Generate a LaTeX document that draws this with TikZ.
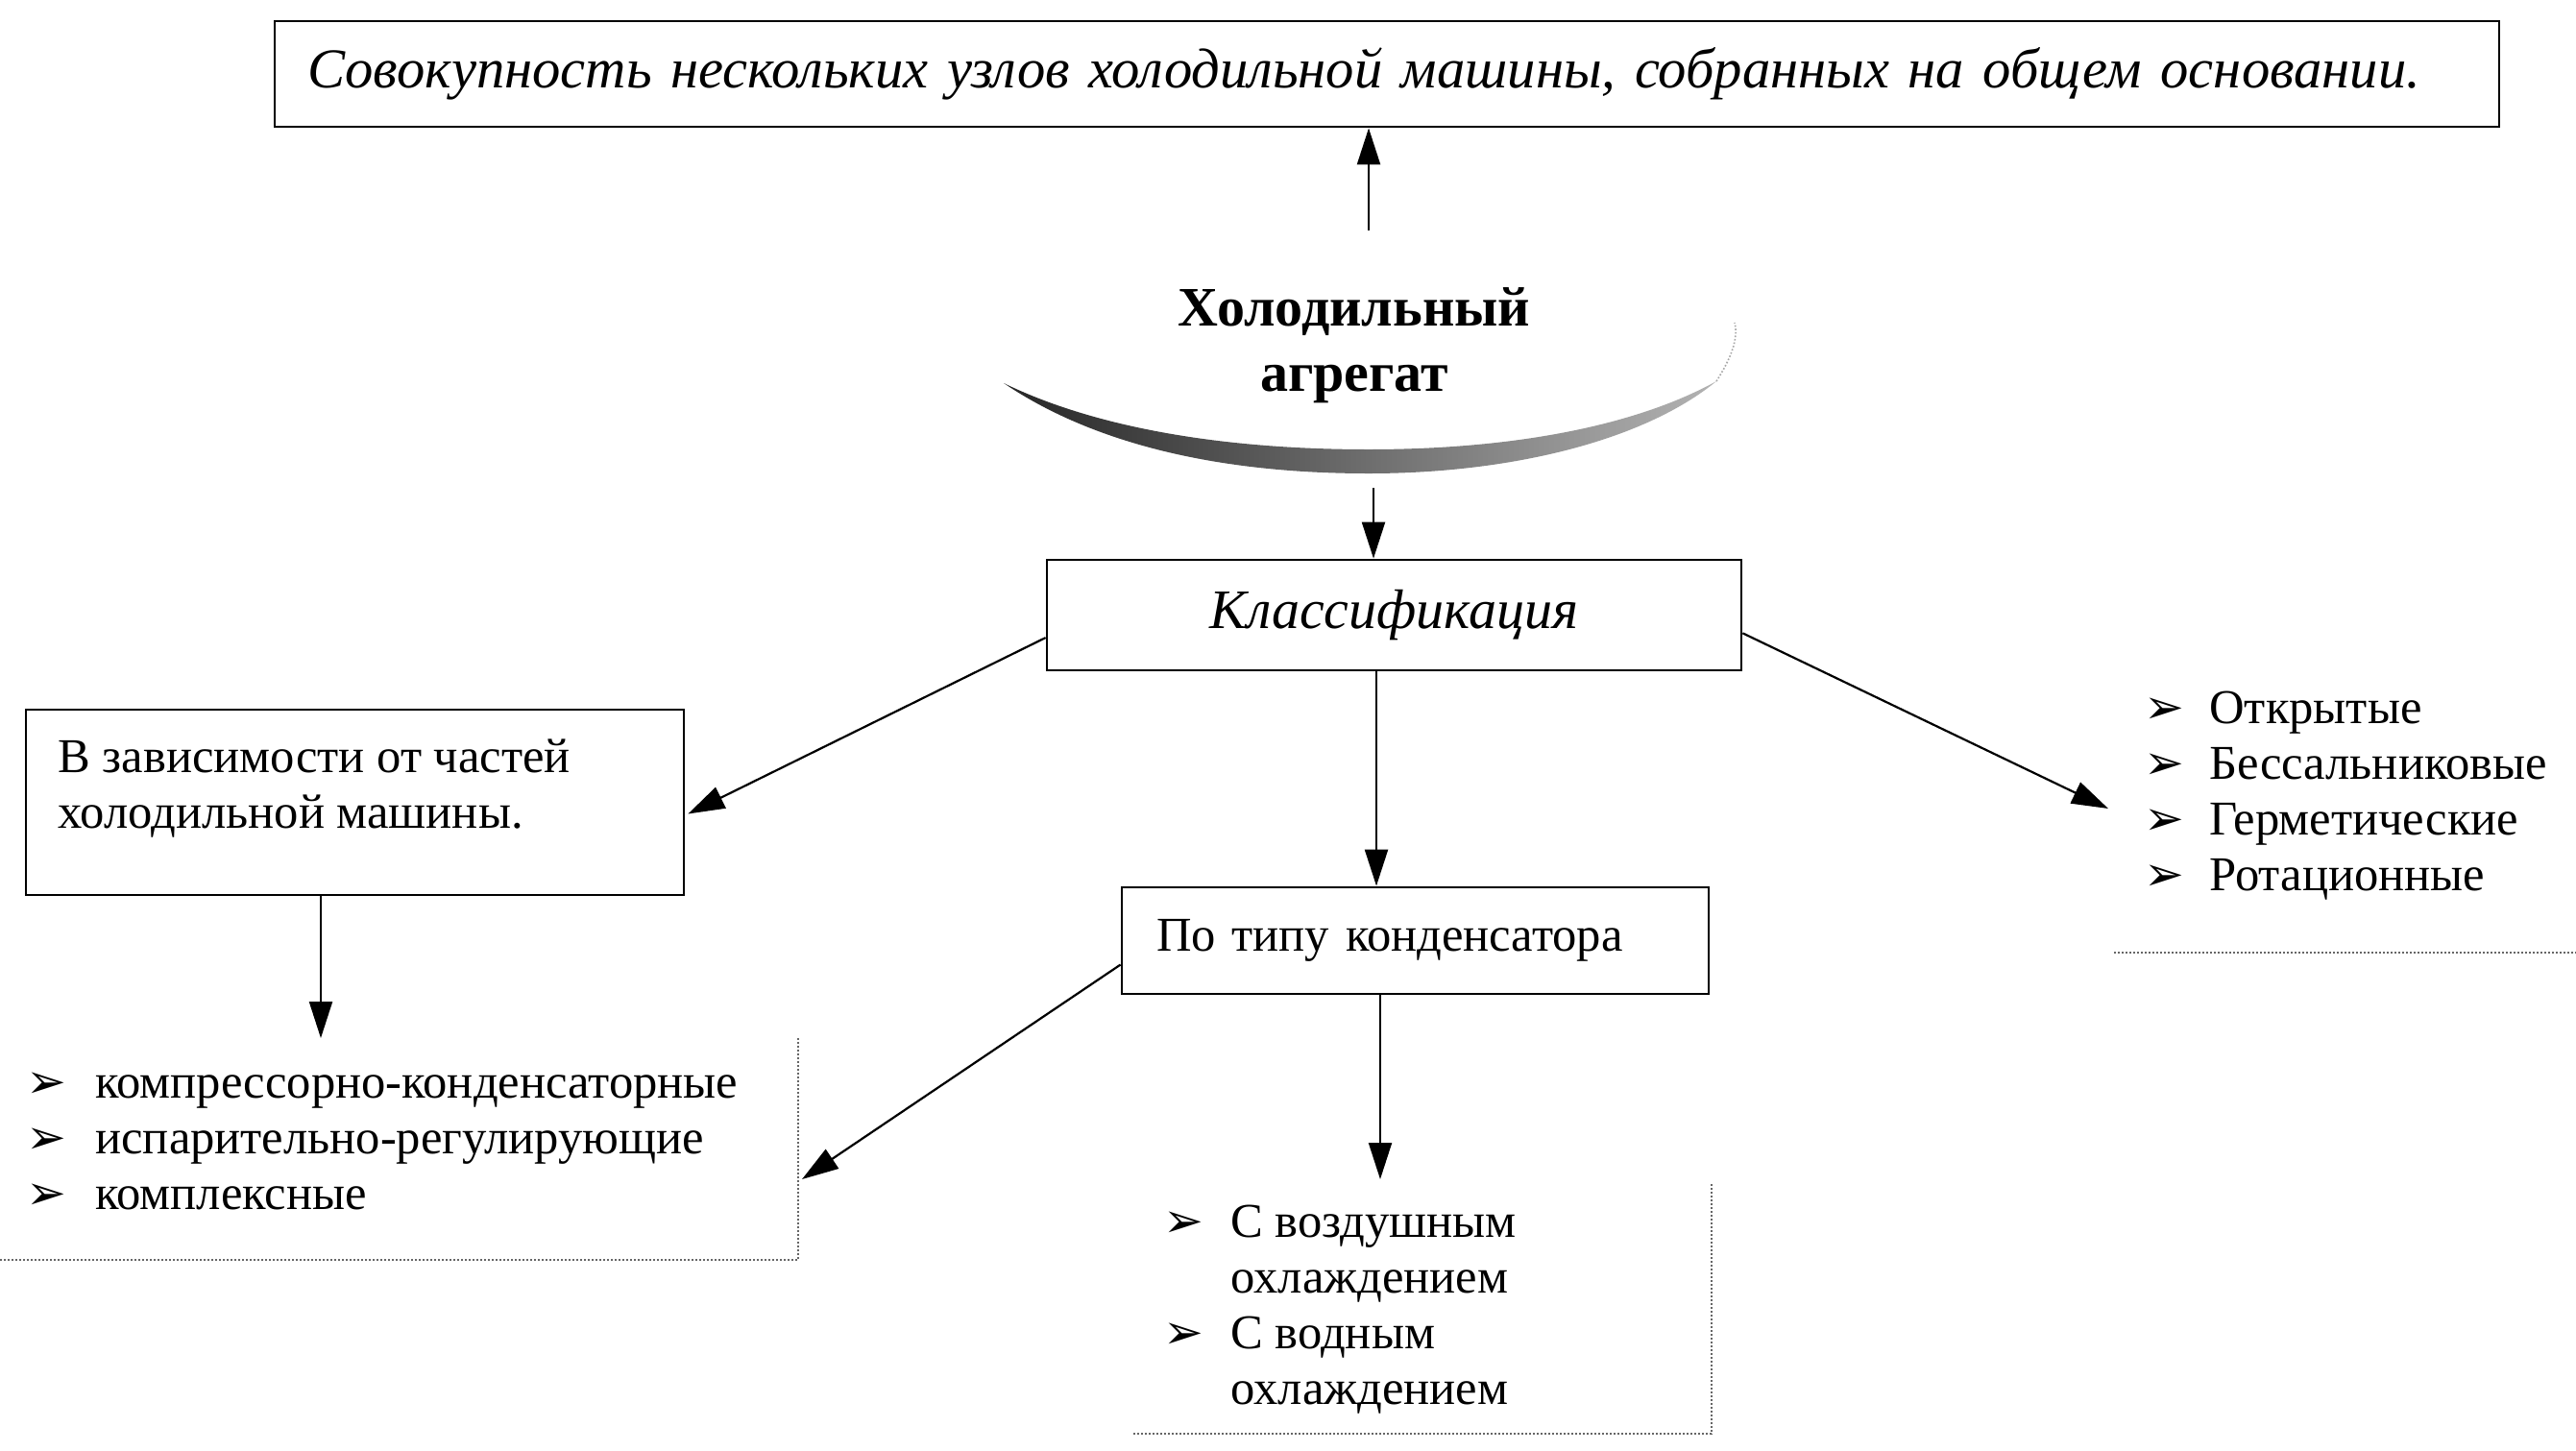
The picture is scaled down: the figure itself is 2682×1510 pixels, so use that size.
\documentclass[tikz,border=0pt]{standalone}
\usepackage{fontspec}
\setmainfont{Liberation Serif}
\newfontfamily\hdrfont{Liberation Serif Italic}
\newfontfamily\bulfont{DejaVu Sans}
\usetikzlibrary{arrows.meta,calc}
\newcommand\bulmark[1]{\makebox[#1][l]{\bulfont\fontsize{25}{29}\selectfont ➢}}
\begin{document}
\begin{tikzpicture}[x=0.5pt,y=-0.5pt,
  boxline/.style={draw,line width=1.4pt,inner sep=0pt},
  arr/.style={line width=1.1pt,-{Triangle[length=19pt,width=12pt]}},
  grain/.style={draw=black!60,line width=1pt,densely dotted},
  body/.style={font=\fontsize{25.3}{29}\selectfont,inner sep=0pt},
]
\useasboundingbox (0,0) rectangle (2682,1510);
\fill[white] (0,0) rectangle (2682,1510);

% definition box
\node[boxline, minimum width=1158pt, minimum height=55pt, text width=1124pt,
      inner xsep=17pt, align=left, font=\hdrfont\fontsize{29.3}{34}\selectfont]
  (def) at (1444,77) {Совокупность нескольких узлов холодильной машины, собранных на общем основании.};

% title
\node[inner sep=0pt, anchor=base, font=\bfseries\fontsize{29}{34}\selectfont]
  (title) at (1410,339) {\begin{tabular}[t]{@{}c@{}}Холодильный\\агрегат\end{tabular}};

% crescent under the title
\shade[left color=black!85, right color=black!30]
  (1045,399) .. controls (1150,470) and (1290,493) .. (1425,493)
  .. controls (1570,493) and (1710,460) .. (1787,397)
  .. controls (1700,445) and (1570,468) .. (1425,468)
  .. controls (1290,468) and (1150,450) .. (1045,399) -- cycle;
\draw[black!35, densely dotted, line width=0.8pt]
  (1787,397) .. controls (1803,372) and (1810,352) .. (1806,336);

% classification box
\node[boxline, minimum width=361.5pt, minimum height=57.5pt,
      font=\itshape\fontsize{29}{34}\selectfont]
  (klass) at (1451.5,640.5) {Классификация};

% left box
\node[boxline, minimum width=342.5pt, minimum height=96.5pt] (lbox) at (369.5,835.5) {};
\node[body, anchor=base west] (ltext) at (60,804)
  {\begin{tabular}[t]{@{}l@{}}В зависимости от частей\\холодильной машины.\end{tabular}};

% condenser box
\node[boxline, minimum width=305.5pt, minimum height=55.5pt, text width=269.5pt,
      inner xsep=18pt, align=left, font=\fontsize{25.3}{29}\selectfont]
  (ptbox) at (1473.5,979.5) {По типу конденсатора};

% lists
\node[body, anchor=base west] (llist) at (27,1143)
  {\begin{tabular}[t]{@{}l@{}l@{}}
   \bulmark{36pt} & компрессорно-конденсаторные\\
   \bulmark{36pt} & испарительно-регулирующие\\
   \bulmark{36pt} & комплексные
   \end{tabular}};
\node[body, anchor=base west] (clist) at (1211,1288)
  {\begin{tabular}[t]{@{}l@{}l@{}}
   \bulmark{35pt} & С воздушным\\
                  & охлаждением\\
   \bulmark{35pt} & С водным\\
                  & охлаждением
   \end{tabular}};
\node[body, anchor=base west] (rlist) at (2232,753)
  {\begin{tabular}[t]{@{}l@{}l@{}}
   \bulmark{34pt} & Открытые\\
   \bulmark{34pt} & Бессальниковые\\
   \bulmark{34pt} & Герметические\\
   \bulmark{34pt} & Ротационные
   \end{tabular}};

% grainy frame lines
\draw[grain] (0,1312) -- (831,1312) -- (831,1081);
\draw[grain] (1180,1493) -- (1782,1493) -- (1782,1232);
\draw[grain] (2201,992) -- (2682,992);

% connectors
\coordinate (upS) at (1425,240);
\draw[arr] (upS) -- (upS |- def.south);
\coordinate (crB) at (1430,508);
\draw[arr] (crB) -- (crB |- klass.north);
\draw[arr] ($(klass.south west)!0.3!(klass.north west)$) -- ($(lbox.east)+(3,12)$);
\coordinate (cx) at (1433,0);
\draw[arr] (klass.south -| cx) -- (ptbox.north -| cx);
\coordinate (rE) at (2195,842);
\draw[arr] ($(klass.south east)!0.34!(klass.north east)$) -- (rE);
\coordinate (lD) at (334,1081);
\draw[arr] (lbox.south -| lD) -- (lD);
\coordinate (lcE) at (835,1228);
\draw[arr] ($(ptbox.south west)!0.28!(ptbox.north west)$) -- (lcE);
\coordinate (pD) at (1437,1228);
\draw[arr] (ptbox.south -| pD) -- (pD);
\end{tikzpicture}
\end{document}
